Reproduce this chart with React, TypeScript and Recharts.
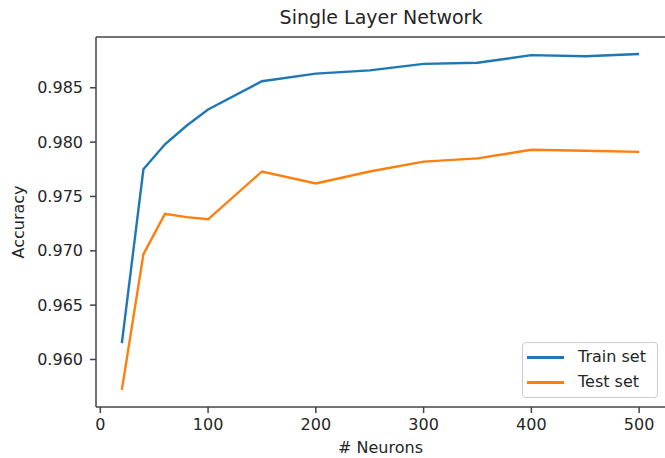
import React from 'react';
import { LineChart, Line, XAxis, YAxis, Legend, ReferenceLine } from 'recharts';

const neurons = [20, 40, 60, 80, 100, 150, 200, 250, 300, 350, 400, 450, 500];
const trainAcc = [0.9615, 0.9775, 0.9798, 0.9815, 0.983, 0.9856, 0.9863, 0.9866, 0.9872, 0.9873, 0.988, 0.9879, 0.9881];
const testAcc = [0.9572, 0.9697, 0.9734, 0.9731, 0.9729, 0.9773, 0.9762, 0.9773, 0.9782, 0.9785, 0.9793, 0.9792, 0.9791];
const seriesNames = ['Train set', 'Test set'];
const xTicks = [0, 100, 200, 300, 400, 500];
const yTicks = [0.96, 0.965, 0.97, 0.975, 0.98, 0.985];

const data = neurons.map((n, i) => ({ n, train: trainAcc[i], test: testAcc[i] }));

const FONT = '"DejaVu Sans", sans-serif';
const AXIS = '#444';
const TEXT = '#262626';
const Y_DOMAIN = [0.95563, 0.98967];

const LegendBox = (props: any) => {
  const items = [...(props.payload || [])].sort(
    (a: any, b: any) => seriesNames.indexOf(a.value) - seriesNames.indexOf(b.value)
  );
  return (
    <div
      style={{
        width: 136,
        height: 56,
        boxSizing: 'border-box',
        border: '1px solid #ccc',
        borderRadius: 4,
        background: 'rgba(255,255,255,0.8)',
        fontFamily: FONT,
        fontSize: 16,
        color: TEXT,
        position: 'relative',
      }}
    >
      {items.map((it: any, i: number) => (
        <div key={it.value} style={{ position: 'absolute', left: 0, top: 3 + i * 25, height: 22, width: '100%' }}>
          <div style={{ position: 'absolute', left: 4, top: 10, width: 37, height: 2.5, background: it.color }} />
          <span style={{ position: 'absolute', left: 55, top: 1, lineHeight: '20px' }}>{it.value}</span>
        </div>
      ))}
    </div>
  );
};

export default function App() {
  return (
    <div style={{ position: 'absolute', left: 0, top: 0, width: 665, height: 458, background: '#fff' }}>
      <div
        style={{
          position: 'absolute',
          left: 231,
          top: 8,
          width: 300,
          textAlign: 'center',
          fontFamily: FONT,
          fontSize: 19,
          lineHeight: 1,
          color: TEXT,
        }}
      >
        Single Layer Network
      </div>
      <LineChart width={665} height={458} data={data} margin={{ top: 37, right: 0, bottom: 21, left: 36 }}>
        <XAxis
          dataKey="n"
          type="number"
          domain={[-4, 524]}
          ticks={xTicks}
          allowDataOverflow
          height={30}
          tickSize={6}
          tickMargin={6}
          stroke={AXIS}
          strokeWidth={1.5}
          tick={{ fill: TEXT, fontSize: 16, fontFamily: FONT }}
          label={{ value: '# Neurons', position: 'bottom', offset: 5, fill: TEXT, fontSize: 16, fontFamily: FONT }}
        />
        <YAxis
          type="number"
          domain={Y_DOMAIN}
          ticks={yTicks}
          allowDataOverflow
          width={60}
          tickSize={6}
          tickMargin={7}
          stroke={AXIS}
          strokeWidth={1.5}
          tickFormatter={(v: number) => v.toFixed(3)}
          tick={{ fill: TEXT, fontSize: 16, fontFamily: FONT }}
          label={{ value: 'Accuracy', angle: -90, position: 'left', offset: 18, fill: TEXT, fontSize: 16, fontFamily: FONT, style: { textAnchor: 'middle' } }}
        />
        <ReferenceLine y={Y_DOMAIN[1]} stroke={AXIS} strokeWidth={1.5} />
        <Line dataKey="train" name={seriesNames[0]} stroke="#1f77b4" strokeWidth={2.4} dot={false} isAnimationActive={false} />
        <Line dataKey="test" name={seriesNames[1]} stroke="#ff7f0e" strokeWidth={2.4} dot={false} isAnimationActive={false} />
        <Legend
          layout="horizontal"
          verticalAlign="middle"
          align="center"
          content={<LegendBox />}
          wrapperStyle={{ position: 'absolute', left: 522, top: 342, width: 136, height: 56 }}
        />
      </LineChart>
    </div>
  );
}
